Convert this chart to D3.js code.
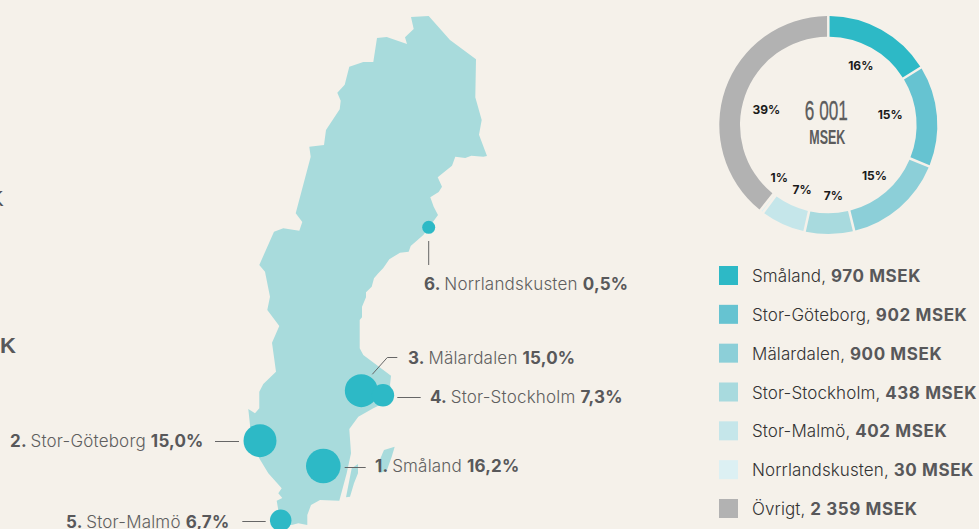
<!DOCTYPE html>
<html lang="sv">

<head>
	<meta charset="UTF-8">
	<title>Regioner MSEK</title>
	<style>
		body {
			margin: 0;
			overflow: hidden;
			background: #f5f1ea;
		}

		svg {
			display: block;
			font-family: Inter, "Liberation Sans", sans-serif;
		}

		.leader {
			fill: none;
			stroke: #666;
			stroke-width: 1px;
		}

		.map-label {
			font-size: 17px;
			font-weight: 300;
			letter-spacing: 0.2px;
			fill: #5f5f5f;
		}

		.map-label .b {
			font-weight: 700;
			fill: #58585a;
		}

		.legend-label {
			font-size: 17px;
			font-weight: 300;
			letter-spacing: 0.1px;
			fill: #333;
		}

		.legend-label .b {
			font-weight: 700;
			letter-spacing: 0.6px;
			fill: #58585a;
		}

		.pct {
			font-size: 12px;
			font-weight: 700;
			fill: #1a1a1a;
			text-anchor: middle;
		}

		.center {
			font-family: "Liberation Sans", sans-serif;
			fill: #5c5c5c;
			text-anchor: middle;
		}
	</style>
	<script src="https://cdn.jsdelivr.net/npm/d3@7"></script>
</head>

<body>
	<script>
		// regions, same order in donut and legend
		const regions = ["Småland", "Stor-Göteborg", "Mälardalen", "Stor-Stockholm", "Stor-Malmö", "Norrlandskusten", "Övrigt"];
		const msek = [970, 902, 900, 438, 402, 30, 2359];
		const msekLabels = ["970", "902", "900", "438", "402", "30", "2 359"];
		const pctLabels = ["16%", "15%", "15%", "7%", "7%", "1%", "39%"];
		const colors = ["#2db9c6", "#66c3d1", "#8ccfd8", "#a8dade", "#c5e6ea", "#dcf0f3", "#b2b2b2"];

		// bubbles on the map
		const bubbleRank = [1, 2, 3, 4, 5, 6];
		const bubbleNames = ["Småland", "Stor-Göteborg", "Mälardalen", "Stor-Stockholm", "Stor-Malmö", "Norrlandskusten"];
		const bubbleShare = [16.2, 15.0, 15.0, 7.3, 6.7, 0.5];
		const bubbleShareText = ["16,2%", "15,0%", "15,0%", "7,3%", "6,7%", "0,5%"];
		const bubbleSites = [[323.3, 466], [260, 440.7], [361.3, 390.7], [383, 395.3], [280.7, 520.3], [428.7, 227.3]];

		// outline of Sweden in map units
		const mainland = [[411, 17], [428.7, 16], [450, 40], [476, 59.3], [475.3, 97.3], [481.7, 120], [479, 134.7], [487, 156], [483.3, 156.7], [471.3, 155.7], [465.3, 158], [455.3, 156.7], [452, 165.7], [437.7, 177.3], [442, 186.7], [438.7, 192], [430.3, 197.3], [433.7, 206.7], [438, 215], [423.3, 235], [410.7, 246], [408.7, 251.7], [400, 252.7], [389.3, 259.3], [383.3, 268], [378.3, 273.3], [374, 278.3], [371.7, 286.7], [366, 292.3], [366, 297.3], [362, 306.7], [362, 317.3], [359.7, 320], [359.7, 348.3], [363.3, 355], [391, 375.7], [390, 385], [393, 396], [386.7, 401.7], [373.3, 408.3], [358.3, 416.7], [349.3, 429], [351, 453.3], [346.7, 473.3], [339.3, 500.7], [320, 500], [311, 505], [307.3, 515], [307.3, 525], [298.3, 523.3], [291.7, 525], [280, 520], [276.7, 500.7], [282.3, 498], [278.3, 493.3], [281.7, 488.3], [268.3, 473.3], [258.3, 456.7], [252, 445], [250, 425], [248.3, 409], [255, 413.3], [259.3, 408.3], [259.3, 391.7], [263.3, 384], [276, 371.7], [272, 342.7], [279.3, 326], [267.3, 310], [270, 296.7], [265, 271.7], [259.3, 265], [274, 231.7], [283.3, 228.3], [299.3, 230.7], [302.3, 222], [295.7, 213.3], [310.7, 156.7], [309.3, 146.7], [324, 145], [326, 130], [339.7, 109.3], [340.7, 100.7], [337.3, 92.7], [344.7, 84.7], [349.3, 66.7], [363.3, 62], [373.3, 62], [377, 38], [386.7, 37], [407, 44], [405, 37.3], [413.7, 29]];
		const gotland = [[394.7, 446.7], [384, 450], [378.3, 463.3], [379, 473.3], [386.7, 470.7], [391.7, 456.7]];
		const oland = [[358, 464], [351.7, 468.3], [346, 497.3], [350, 496.7], [354, 483.3], [358, 473.3]];

		const width = 979;
		const height = 529;

		const svg = d3.select("body").append("svg")
			.attr("width", width)
			.attr("height", height);

		// map
		const projection = d3.geoIdentity();
		const geoPath = d3.geoPath(projection);
		const ring = pts => pts.concat([pts[0]]);

		svg.selectAll(".land")
			.data([mainland, gotland, oland])
			.enter()
			.append("path")
			.attr("class", "land")
			.attr("fill", "#a8dbdc")
			.attr("d", d => geoPath({ type: "Polygon", coordinates: [ring(d)] }));

		const radius = d3.scaleLinear().domain([0.5, 16.2]).range([6.5, 17.3]);

		svg.selectAll(".bubble")
			.data(bubbleShare)
			.enter()
			.append("circle")
			.attr("class", "bubble")
			.attr("fill", colors[0])
			.attr("cx", (d, i) => projection(bubbleSites[i])[0])
			.attr("cy", (d, i) => projection(bubbleSites[i])[1])
			.attr("r", d => radius(d));

		// leader lines and labels, one per bubble
		const leaders = [
			[[344.7, 467.5], [365.7, 467.5]],
			[[215, 441.5], [239, 441.5]],
			[[372.3, 374.3], [387.3, 357.5], [397.3, 357.5]],
			[[397.3, 397.5], [420.7, 397.5]],
			[[242.3, 521.5], [265.7, 521.5]],
			[[428.7, 241], [428.7, 265]]
		];
		const labelAt = [[375, 472], [10, 447], [408, 364], [430, 403], [66, 528], [424, 290]];

		svg.selectAll(".leader")
			.data(leaders)
			.enter()
			.append("path")
			.attr("class", "leader")
			.attr("d", d3.line());

		const labels = svg.selectAll(".map-label")
			.data(bubbleRank)
			.enter()
			.append("text")
			.attr("class", "map-label")
			.attr("x", (d, i) => labelAt[i][0])
			.attr("y", (d, i) => labelAt[i][1]);

		labels.append("tspan").attr("class", "b").text(d => d + ". ");
		labels.append("tspan").text((d, i) => bubbleNames[i] + " ");
		labels.append("tspan").attr("class", "b").text((d, i) => bubbleShareText[i]);

		// cropped text at the left edge of the page
		svg.append("text").attr("x", -11).attr("y", 206).attr("font-size", 22).attr("fill", "#555").style("font-family", "Liberation Sans").text("K");
		svg.append("text").attr("x", 0).attr("y", 353).attr("font-size", 22).attr("font-weight", "bold").attr("fill", "#58585a").style("font-family", "Liberation Sans").text("K");

		// donut
		const donut = svg.append("g").attr("transform", "translate(828.3,125)");
		const pie = d3.pie().sort(null)(msek);
		const arc = d3.arc().innerRadius(88.3).outerRadius(109).padAngle(0.018);

		donut.selectAll(".slice")
			.data(pie)
			.enter()
			.append("path")
			.attr("class", "slice")
			.attr("fill", (d, i) => colors[i])
			.attr("d", arc);

		// label radius and angle nudge per slice
		const pctRadius = [67.6, 62.8, 68.7, 70.8, 70, 72, 63.9];
		const pctNudge = [-0.007, -0.085, -0.026, -0.06, -0.045, 0.094, -0.09];

		donut.selectAll(".pct")
			.data(pie)
			.enter()
			.append("text")
			.attr("class", "pct")
			.attr("dy", "0.35em")
			.attr("transform", (d, i) => {
				const a = (d.startAngle + d.endAngle) / 2 + pctNudge[i];
				return "translate(" + (Math.sin(a) * pctRadius[i]) + "," + (-Math.cos(a) * pctRadius[i]) + ")";
			})
			.text((d, i) => pctLabels[i]);

		// the centre face is a condensed one, squeeze to the reference width
		donut.append("text").attr("class", "center").attr("x", -2).attr("y", -5).attr("font-size", 28)
			.attr("stroke", "#5c5c5c").attr("stroke-width", 0.3)
			.attr("textLength", 43).attr("lengthAdjust", "spacingAndGlyphs").text("6 001");
		donut.append("text").attr("class", "center").attr("x", -1).attr("y", 19).attr("font-size", 19.5).attr("font-weight", "bold")
			.attr("textLength", 36).attr("lengthAdjust", "spacingAndGlyphs").text("MSEK");

		// legend
		const legendY = d3.scalePoint().domain(regions).range([266, 499]);

		const legend = svg.selectAll(".legend-row")
			.data(regions)
			.enter()
			.append("g")
			.attr("class", "legend-row")
			.attr("transform", d => "translate(719," + legendY(d) + ")");

		legend.append("rect")
			.attr("width", 19)
			.attr("height", 19)
			.attr("fill", (d, i) => colors[i]);

		const legendText = legend.append("text")
			.attr("class", "legend-label")
			.attr("x", 33)
			.attr("y", 16);

		legendText.append("tspan").text(d => d + ", ");
		legendText.append("tspan").attr("class", "b").text((d, i) => msekLabels[i] + " MSEK");
	</script>
</body>

</html>
